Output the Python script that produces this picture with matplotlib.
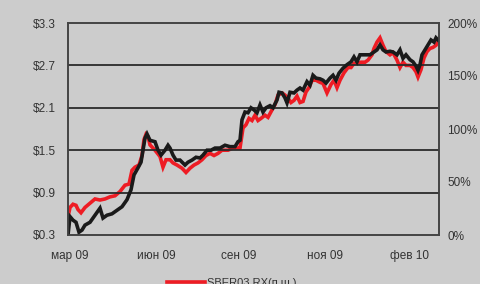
import matplotlib
matplotlib.use('Agg')
import matplotlib.pyplot as plt

plt.rcParams['font.family'] = ['Liberation Sans', 'DejaVu Sans']

# позиция точки (торговые дни, условная шкала)
day_black = [0, 2, 5, 8, 11, 14, 17, 22, 27, 32, 35, 39, 44, 49, 54, 59, 63, 66, 70, 73,
             75, 77, 79, 82, 87, 90, 93, 97, 100, 102, 105, 108, 112, 117, 120, 124, 128,
             132, 135, 139, 143, 147, 152, 157, 162, 167, 170, 172, 174, 177, 180, 183,
             186, 189, 192, 195, 198, 202, 205, 209, 211, 214, 217, 219, 222, 226, 229,
             232, 235, 239, 242, 245, 248, 252, 255, 258, 262, 265, 268, 271, 275, 279,
             283, 286, 289, 292, 295, 299, 302, 306, 309, 312, 315, 318, 322, 325, 329,
             332, 335, 338, 342, 345, 348, 350, 352, 354, 357, 360, 363, 366, 368, 370]
sber_usd = [0.30, 0.56, 0.51, 0.48, 0.34, 0.37, 0.44, 0.48, 0.58, 0.68, 0.54, 0.58, 0.60,
            0.65, 0.70, 0.80, 0.94, 1.15, 1.25, 1.33, 1.50, 1.67, 1.73, 1.64, 1.62, 1.50,
            1.43, 1.50, 1.57, 1.53, 1.43, 1.36, 1.36, 1.29, 1.33, 1.36, 1.40, 1.39, 1.43,
            1.50, 1.50, 1.53, 1.53, 1.57, 1.55, 1.55, 1.62, 1.64, 1.93, 2.04, 2.03, 2.10,
            2.07, 2.03, 2.14, 2.04, 2.10, 2.13, 2.10, 2.21, 2.32, 2.31, 2.24, 2.17, 2.32,
            2.31, 2.35, 2.38, 2.35, 2.47, 2.42, 2.56, 2.52, 2.51, 2.49, 2.45, 2.52, 2.56,
            2.49, 2.59, 2.66, 2.71, 2.75, 2.82, 2.75, 2.85, 2.85, 2.85, 2.85, 2.89, 2.92,
            2.99, 2.92, 2.89, 2.90, 2.89, 2.85, 2.92, 2.80, 2.85, 2.78, 2.75, 2.69, 2.63,
            2.71, 2.85, 2.92, 2.99, 3.06, 3.03, 3.09, 3.06]

day_red = [0, 2, 5, 8, 10, 13, 17, 22, 27, 32, 37, 42, 47, 52, 57, 61, 64, 67, 71, 74,
           76, 78, 80, 82, 87, 92, 95, 98, 102, 105, 109, 114, 118, 122, 126, 130, 134,
           138, 142, 146, 150, 154, 160, 165, 170, 172, 175, 178, 181, 184, 187, 190, 193,
           197, 200, 204, 207, 210, 214, 217, 220, 223, 226, 229, 232, 235, 238, 241, 244,
           248, 252, 255, 259, 263, 266, 269, 272, 276, 280, 283, 286, 290, 293, 297, 300,
           304, 306, 309, 312, 315, 318, 322, 325, 329, 332, 335, 338, 342, 345, 348, 350,
           353, 356, 359, 362, 365, 368, 370]
sber03_pct = [17, 26, 29, 28, 24, 21, 26, 30, 34, 33, 34, 36, 37, 41, 47, 48, 61, 64, 66,
              75, 90, 95, 93, 85, 80, 74, 64, 71, 71, 68, 66, 63, 59, 63, 66, 68, 71, 75,
              77, 75, 77, 80, 80, 82, 82, 82, 101, 104, 110, 108, 113, 108, 110, 113, 111,
              118, 123, 132, 134, 132, 129, 125, 127, 131, 125, 126, 135, 139, 146, 146,
              144, 143, 134, 142, 146, 139, 146, 153, 158, 158, 162, 162, 163, 163, 165,
              170, 176, 182, 186, 179, 173, 170, 172, 165, 158, 163, 160, 160, 158, 154,
              149, 156, 167, 173, 176, 177, 179, 182]

tick_pos = [2, 88, 171, 257, 342]
tick_labels = ['мар 09', 'июн 09', 'сен 09', 'ноя 09', 'фев 10']

bg = '#cccccc'
txt = '#333333'

fig = plt.figure(figsize=(4.8, 2.84), dpi=100, facecolor=bg)
ax = fig.add_axes([68/480, 1-235/284, 371/480, 212/284])
ax2 = ax.twinx()
ax.set_facecolor(bg)
ax.set_zorder(ax2.get_zorder() + 1)
ax.patch.set_visible(False)
ax2.set_facecolor(bg)

ax2.plot(day_red, sber03_pct, color='#ee1c24', lw=2.6, solid_joinstyle='miter',
         label='SBER03 RX(п.ш.)')
ax.plot(day_black, sber_usd, color='#1a1a1a', lw=2.6, solid_joinstyle='miter')

ax.set_xlim(0, 371)
ax.set_ylim(0.3, 3.3)
ax.set_yticks([0.3, 0.9, 1.5, 2.1, 2.7, 3.3])
ax.set_yticklabels(['$0.3', '$0.9', '$1.5', '$2.1', '$2.7', '$3.3'])
ax2.set_ylim(0, 200)
ax2.set_yticks([0, 50, 100, 150, 200])
ax2.set_yticklabels(['0%', '50%', '100%', '150%', '200%'])
ax.set_xticks(tick_pos)
ax.set_xticklabels(tick_labels)

for g in [0.9, 1.5, 2.1, 2.7]:
    ax.axhline(g, color='#2b2b2b', lw=1.3, zorder=0)

for a in (ax, ax2):
    for s in a.spines.values():
        s.set_color('#444444')
        s.set_linewidth(1.2)
    a.tick_params(length=0, labelsize=8.5, colors=txt)
ax.tick_params(axis='y', pad=9)
ax.tick_params(axis='x', pad=11)
ax2.tick_params(axis='y', pad=6)

leg = fig.legend(loc='center', bbox_to_anchor=(0.483, 1-283/284), frameon=False,
                 fontsize=8, handlelength=3.4, handletextpad=0.2, labelcolor=txt)
for t in leg.get_texts():
    t.set_color(txt)

fig.savefig('out.png', dpi=100, facecolor=bg)
